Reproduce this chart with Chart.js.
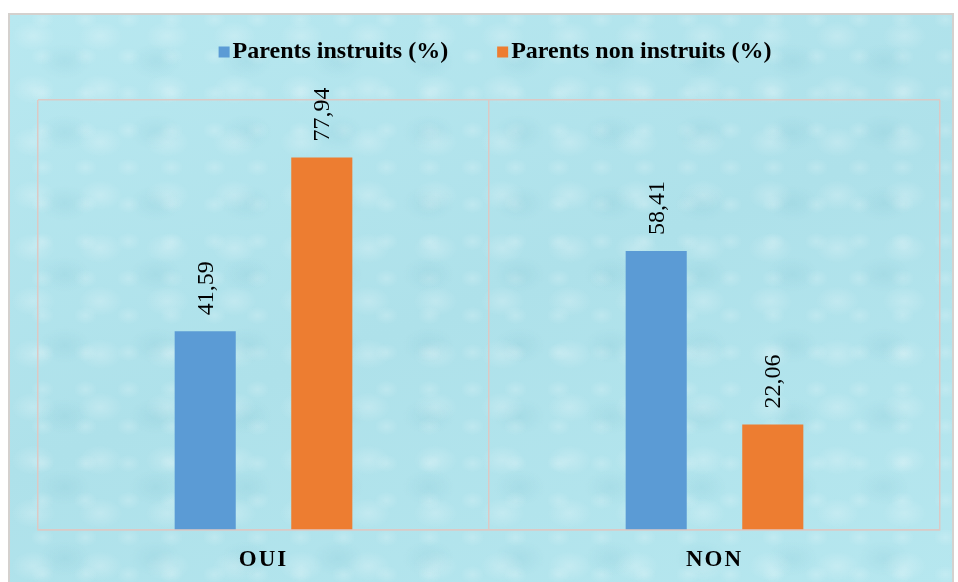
<!DOCTYPE html>
<html>
<head>
<meta charset="utf-8">
<script src="https://cdn.jsdelivr.net/npm/chart.js@4.4.1/dist/chart.umd.min.js"></script>
<style>
    html, body { margin: 0; padding: 0; background: #fff; }
    #cadre {
        position: absolute; left: 8px; top: 13px; width: 946px; height: 575px;
        border: 2px solid #d4d1ce; box-sizing: border-box;
        background:
            radial-gradient(ellipse 22px 15px at 35% 40%, rgba(255,255,255,0.22), transparent) 0 0 / 67px 53px,
            radial-gradient(ellipse 26px 18px at 60% 65%, rgba(90,170,190,0.12), transparent) 0 0 / 91px 71px,
            radial-gradient(ellipse 12px 9px at 50% 50%, rgba(255,255,255,0.18), transparent) 11px 23px / 43px 37px,
            linear-gradient(160deg, #b8e8f0 0%, #aee1ea 50%, #b6e7ef 100%);
    }
    #zone { position: absolute; left: 0; top: 0; width: 958px; height: 582px; }
</style>
</head>
<body>
<div id="cadre"></div>
<div id="zone"><canvas id="myChart"></canvas></div>
<script>
const categories = ['OUI', 'NON'];
const parentsInstruits = [41.59, 58.41];
const parentsNonInstruits = [77.94, 22.06];
const seriesNames = ['Parents instruits (%)', 'Parents non instruits (%)'];
const couleurs = ['#5b9bd5', '#ed7d31'];

// legende dessinee a la main (carre colle au texte)
const legendePlugin = {
    id: 'legende',
    afterDraw(chart) {
        const ctx = chart.ctx;
        ctx.save();
        ctx.letterSpacing = '0px';
        ctx.font = 'bold 24px "Liberation Serif"';
        ctx.textBaseline = 'middle';
        const box = 11, gap = 3, espace = 49;
        const largeurs = seriesNames.map(n => ctx.measureText(n).width);
        const total = largeurs.reduce((a, b) => a + b, 0) + 2 * (box + gap) + espace;
        let x = 495 - total / 2;
        const y = 52;
        seriesNames.forEach((nom, i) => {
            ctx.fillStyle = couleurs[i];
            ctx.fillRect(x, y - box / 2, box, box);
            ctx.fillStyle = '#000';
            ctx.fillText(nom, x + box + gap, y);
            x += box + gap + largeurs[i] + espace;
        });
        ctx.restore();
    }
};

const etiquettesPlugin = {
    id: 'etiquettes',
    beforeDraw(chart) {
        chart.ctx.letterSpacing = '2px';
    },
    beforeDatasetsDraw(chart) {
        chart.ctx.letterSpacing = '0px';
    },
    afterDatasetsDraw(chart) {
        const ctx = chart.ctx;
        chart.data.datasets.forEach((ds, i) => {
            chart.getDatasetMeta(i).data.forEach((bar, j) => {
                const txt = ds.data[j].toFixed(2).replace('.', ',');
                ctx.save();
                ctx.translate(bar.x + 1, bar.y - 16);
                ctx.rotate(-Math.PI / 2);
                ctx.font = '24px "Liberation Serif"';
                ctx.fillStyle = '#000';
                ctx.textAlign = 'left';
                ctx.textBaseline = 'middle';
                ctx.fillText(txt, 0, 0);
                ctx.restore();
            });
        });
    }
};

const ctx = document.getElementById('myChart').getContext('2d');
const myChart = new Chart(ctx, {
    type: 'bar',
    data: {
        labels: categories,
        datasets: [{
            label: seriesNames[0],
            data: parentsInstruits,
            backgroundColor: couleurs[0]
        }, {
            label: seriesNames[1],
            data: parentsNonInstruits,
            backgroundColor: couleurs[1]
        }]
    },
    options: {
        responsive: true,
        maintainAspectRatio: false,
        animation: false,
        categoryPercentage: 0.517,
        barPercentage: 0.524,
        layout: { padding: { left: 38, right: 18, top: 100, bottom: 0 } },
        plugins: {
            legend: { display: false },
            tooltip: { enabled: false }
        },
        scales: {
            x: {
                grid: { color: '#dcc9c5', lineWidth: 1.5, drawTicks: false, offset: true },
                border: { color: '#dcc9c5', width: 1.5 },
                afterFit(scale) { scale.height = 52; },
                ticks: {
                    color: '#000',
                    padding: 16,
                    font: { family: '"Liberation Serif"', size: 23, weight: 'bold' }
                }
            },
            y: {
                min: 0,
                max: 90,
                ticks: { display: false, stepSize: 90 },
                grid: { color: '#dcc9c5', lineWidth: 1.5, drawTicks: false },
                border: { display: false }
            }
        }
    },
    plugins: [legendePlugin, etiquettesPlugin]
});
</script>
</body>
</html>
